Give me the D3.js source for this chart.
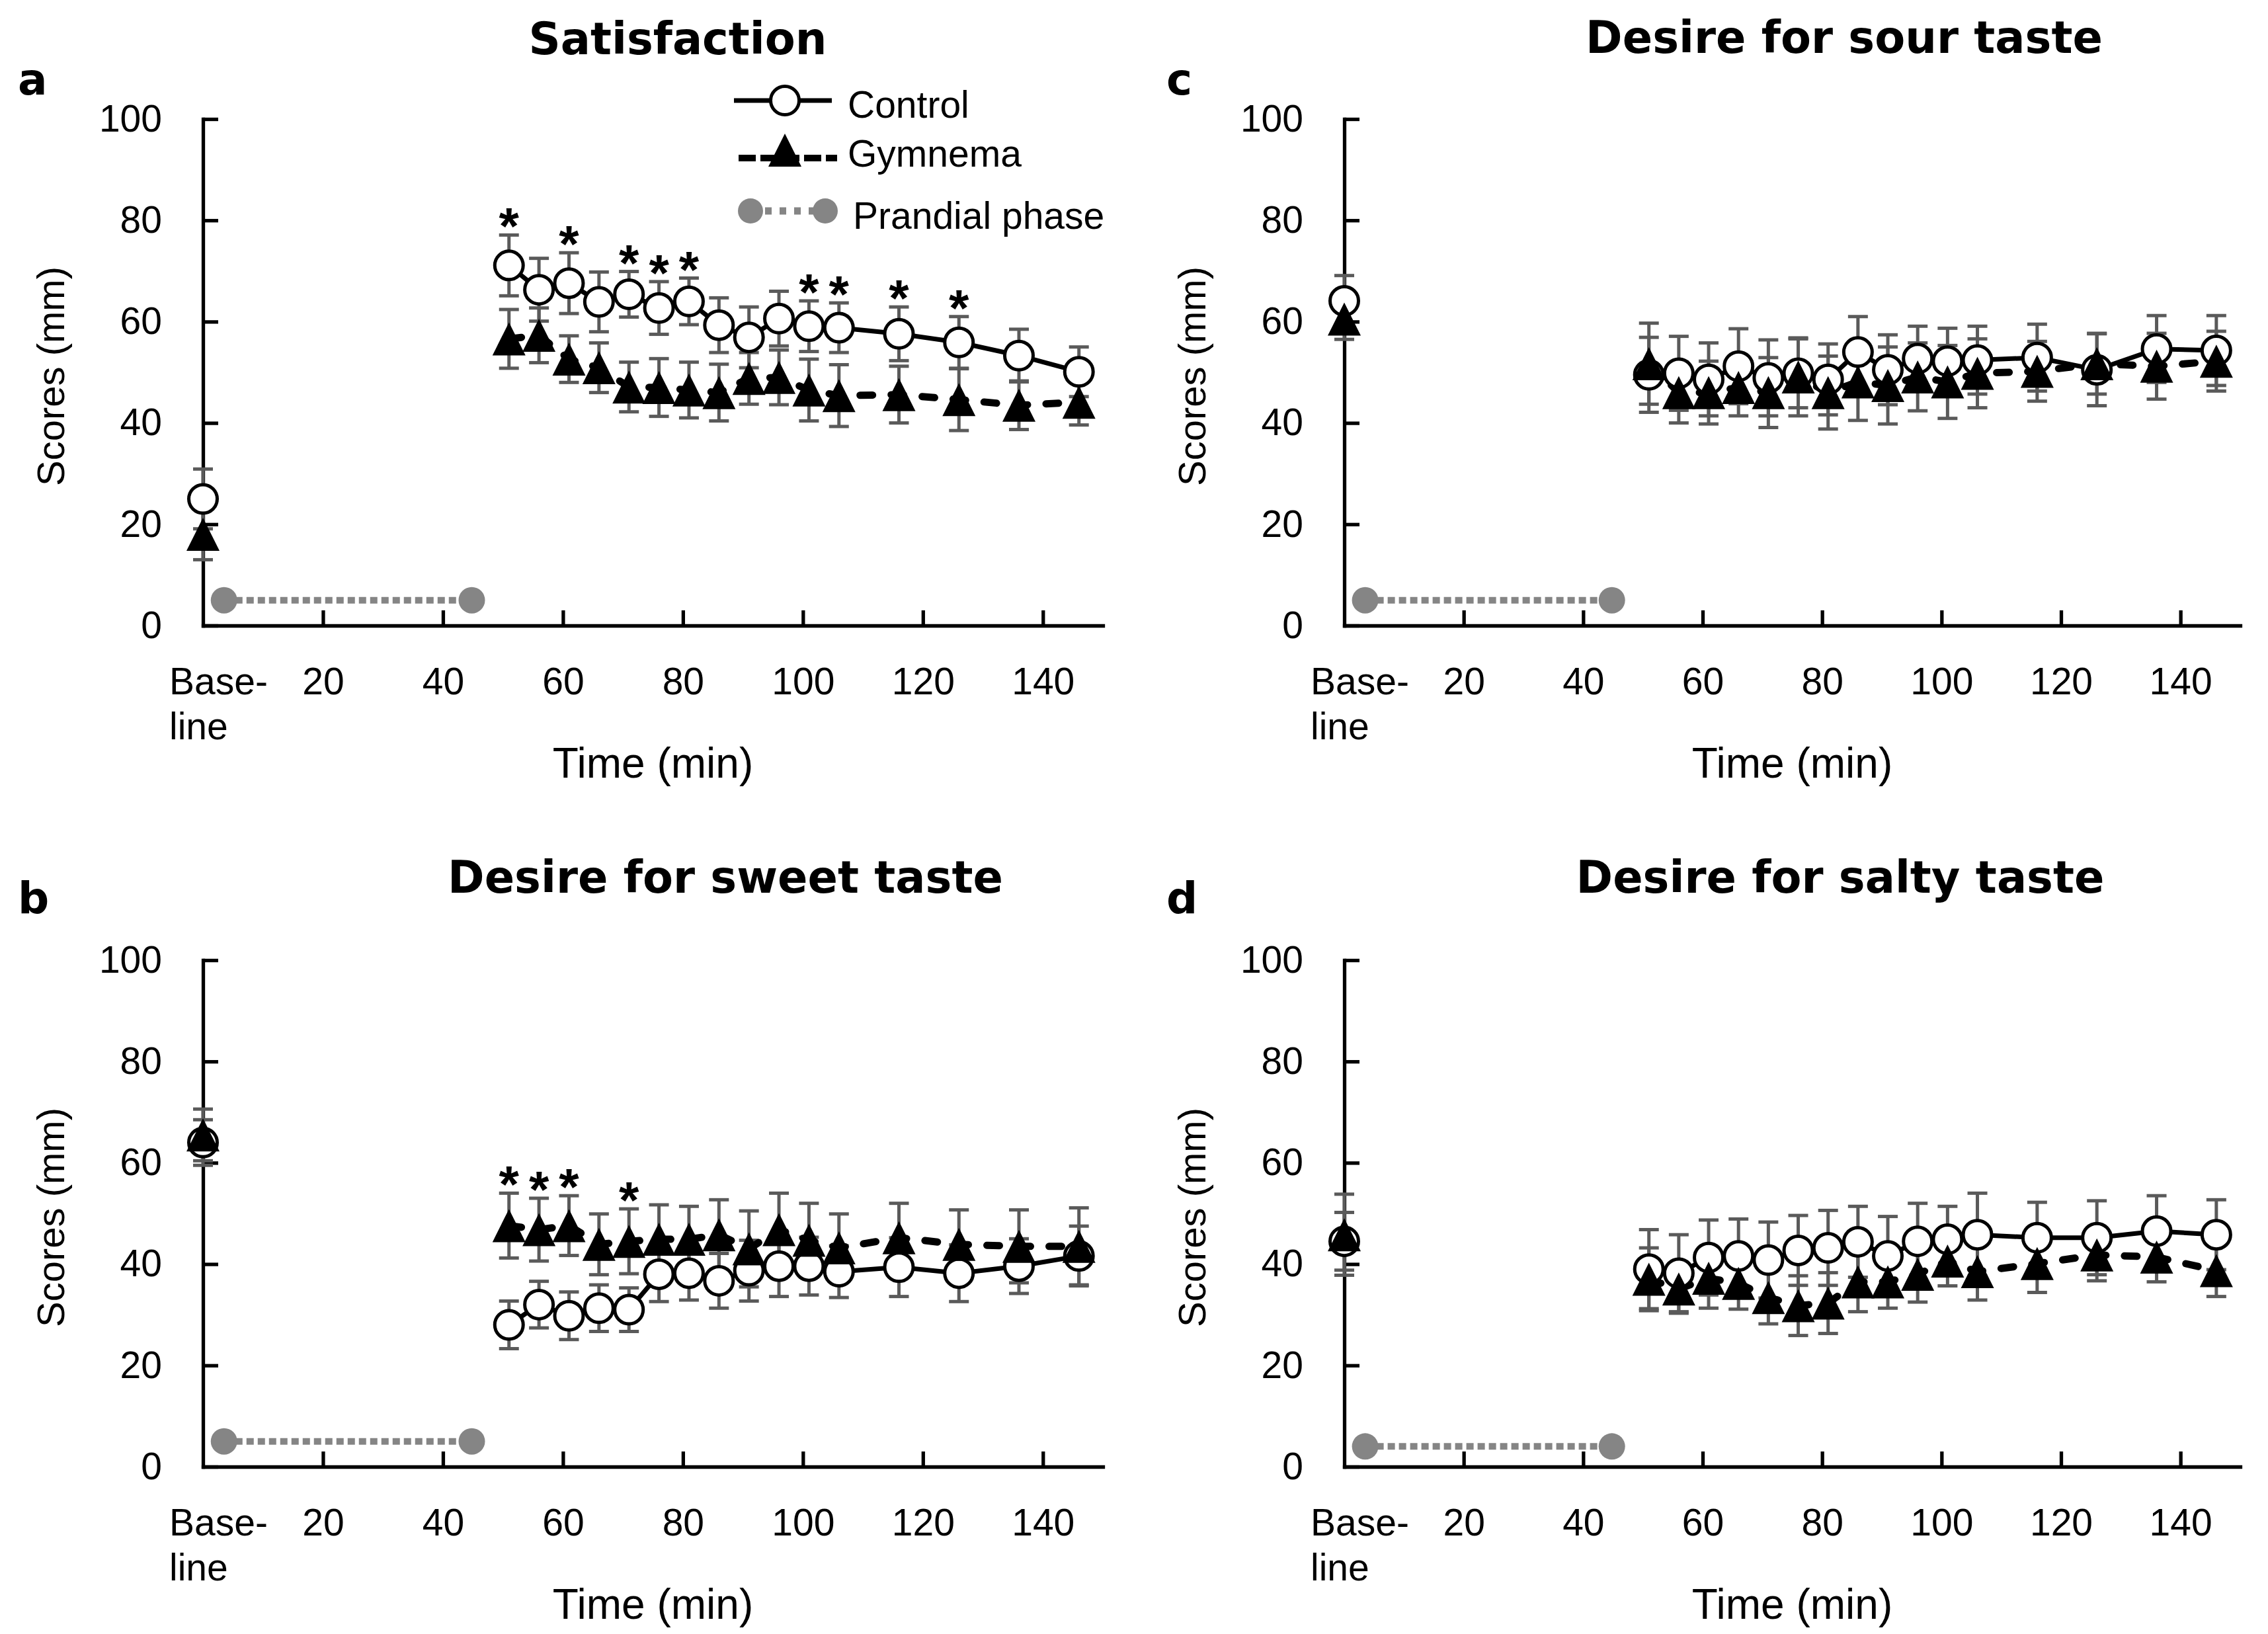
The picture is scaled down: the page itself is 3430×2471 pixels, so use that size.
<!DOCTYPE html>
<html>
<head>
<meta charset="utf-8">
<script src="https://cdn.jsdelivr.net/npm/d3@7"></script>
<style>
body { margin: 0; background: #fff; }
text { font-family: "Liberation Sans", Arial, sans-serif; fill: #000; }
</style>
</head>
<body>
<div id="chart"></div>
<script>
// time points (min); index 0 is the baseline, not joined to the lines
var times = [0, 51, 56, 61, 66, 71, 76, 81, 86, 91, 96, 101, 106, 116, 126, 136, 146];
var xTicks = [20, 40, 60, 80, 100, 120, 140];
var yTicks = [0, 20, 40, 60, 80, 100];
var prandialTimes = [3.5, 44.8];

// a: Satisfaction
var satControl   = [25.0, 71.1, 66.3, 67.6, 63.9, 65.4, 62.7, 64.0, 59.3, 56.9, 60.6, 59.1, 58.8, 57.6, 55.9, 53.3, 50.1];
var satControlSE = [5.9, 6.0, 6.2, 6.0, 5.9, 4.5, 5.2, 4.6, 5.4, 6.0, 5.4, 5.0, 4.9, 5.3, 5.1, 5.2, 4.9];
var satGymnema   = [18.0, 56.6, 57.3, 52.6, 50.9, 47.1, 47.0, 46.5, 46.0, 48.8, 49.0, 46.5, 45.4, 45.6, 44.6, 43.5, 44.1];
var satGymnemaSE = [5.0, 5.8, 5.4, 4.6, 4.9, 4.9, 5.7, 5.5, 5.6, 5.1, 5.4, 6.1, 6.1, 5.6, 6.1, 4.8, 4.5];
var satPrandial  = [5, 5];
var satStars     = [51, 61, 71, 76, 81, 101, 106, 116, 126];

// b: Desire for sweet taste
var sweetControl   = [64.0, 28.0, 32.0, 29.8, 31.3, 31.0, 38.0, 38.2, 36.7, 38.7, 39.6, 39.6, 38.5, 39.4, 38.2, 39.6, 41.6];
var sweetControlSE = [4.5, 4.7, 4.6, 4.7, 4.6, 4.3, 5.4, 5.3, 5.4, 6.0, 6.0, 5.7, 5.1, 5.8, 5.6, 5.4, 5.9];
var sweetGymnema   = [65.5, 47.6, 46.8, 47.6, 43.9, 44.5, 44.9, 44.9, 45.8, 43.0, 46.8, 44.7, 43.2, 45.2, 43.9, 43.5, 43.5];
var sweetGymnemaSE = [5.1, 6.4, 6.2, 5.9, 6.0, 6.4, 6.8, 6.5, 6.9, 7.5, 7.2, 7.3, 6.7, 6.8, 6.8, 7.2, 7.6];
var sweetPrandial  = [5, 5];
var sweetStars     = [51, 56, 61, 71];

// c: Desire for sour taste
var sourControl   = [64.1, 49.5, 49.8, 48.6, 51.2, 48.9, 49.8, 48.6, 54.0, 50.5, 52.7, 52.2, 52.4, 52.9, 50.5, 54.6, 54.3];
var sourControlSE = [5.0, 7.4, 7.3, 7.2, 7.4, 7.5, 6.8, 7.0, 7.0, 6.9, 6.4, 6.5, 6.7, 6.6, 7.1, 6.6, 6.9];
var sourGymnema   = [60.5, 51.7, 46.0, 46.0, 47.0, 46.0, 49.1, 46.0, 48.1, 47.4, 49.1, 48.1, 49.8, 50.2, 51.7, 51.2, 52.2];
var sourGymnemaSE = [4.0, 8.0, 6.0, 6.2, 5.6, 6.9, 7.7, 7.2, 7.6, 7.6, 6.7, 7.2, 6.8, 5.9, 6.0, 6.5, 5.9];
var sourPrandial  = [5, 5];

// d: Desire for salty taste
var saltyControl   = [44.5, 39.0, 38.2, 41.3, 41.6, 40.8, 42.7, 43.2, 44.4, 41.6, 44.5, 44.9, 45.8, 45.2, 45.2, 46.5, 45.8];
var saltyControlSE = [5.7, 7.8, 7.6, 7.4, 7.3, 7.5, 6.9, 7.4, 7.0, 7.8, 7.5, 6.5, 8.2, 7.0, 7.3, 7.0, 6.9];
var saltyGymnema   = [45.8, 37.0, 35.1, 37.2, 36.2, 33.4, 31.8, 32.3, 36.5, 36.5, 38.0, 40.6, 38.5, 40.1, 41.8, 41.4, 38.7];
var saltyGymnemaSE = [8.0, 6.2, 4.8, 5.9, 5.1, 5.2, 5.9, 6.0, 5.9, 5.2, 5.5, 4.9, 5.6, 5.7, 5.1, 4.9, 5.1];
var saltyPrandial  = [4, 4];

var legendLabels = ["Control", "Gymnema", "Prandial phase"];

var svg = d3.select("#chart")
    .append("svg")
    .attr("width", 3430)
    .attr("height", 2471);

svg.append("rect").attr("width", 3430).attr("height", 2471).attr("fill", "#fff");

var errColor = "#5a5a5a";
var prandialColor = "#858585";
var titleFont = "'DejaVu Sans', sans-serif";
var triPath = "M0,-25L25,25L-25,25Z";

var panels = [
    { letter: "a", title: "Satisfaction", left: 307, right: 1668, top: 180, bottom: 946,
      titleX: 1025, titleY: 82, letterX: 27, letterY: 143,
      control: satControl, controlSE: satControlSE, gymnema: satGymnema, gymnemaSE: satGymnemaSE,
      prandial: satPrandial, stars: satStars, starsOn: "control", legend: true },
    { letter: "c", title: "Desire for sour taste", left: 2033, right: 3388, top: 180, bottom: 946,
      titleX: 2789, titleY: 80, letterX: 1764, letterY: 143,
      control: sourControl, controlSE: sourControlSE, gymnema: sourGymnema, gymnemaSE: sourGymnemaSE,
      prandial: sourPrandial, stars: [], starsOn: "control" },
    { letter: "b", title: "Desire for sweet taste", left: 307, right: 1668, top: 1452, bottom: 2218,
      titleX: 1097, titleY: 1350, letterX: 27, letterY: 1381,
      control: sweetControl, controlSE: sweetControlSE, gymnema: sweetGymnema, gymnemaSE: sweetGymnemaSE,
      prandial: sweetPrandial, stars: sweetStars, starsOn: "gymnema" },
    { letter: "d", title: "Desire for salty taste", left: 2033, right: 3388, top: 1452, bottom: 2218,
      titleX: 2783, titleY: 1350, letterX: 1764, letterY: 1381,
      control: saltyControl, controlSE: saltyControlSE, gymnema: saltyGymnema, gymnemaSE: saltyGymnemaSE,
      prandial: saltyPrandial, stars: [], starsOn: "control" }
];

panels.forEach(drawPanel);

function drawPanel(p) {
    var g = svg.append("g");

    var x = d3.scaleLinear().domain([0, 150]).range([p.left, p.right]);
    var y = d3.scaleLinear().domain([0, 100]).range([p.bottom, p.top]);

    // axes, ticks point inward
    var yAxis = g.append("g")
        .attr("transform", `translate(${p.left},0)`)
        .call(d3.axisLeft(y).tickValues(yTicks).tickSizeInner(-23).tickSizeOuter(0).tickPadding(62));
    var xAxis = g.append("g")
        .attr("transform", `translate(0,${p.bottom})`)
        .call(d3.axisBottom(x).tickValues(xTicks).tickSizeInner(-23).tickSizeOuter(0).tickPadding(64));
    [yAxis, xAxis].forEach(function(ax) {
        ax.attr("font-family", null).attr("font-size", null);
        ax.select(".domain").attr("stroke", "#000").attr("stroke-width", 5.3).attr("stroke-linecap", "square");
        ax.selectAll(".tick line").attr("stroke", "#000").attr("stroke-width", 5.3);
        ax.selectAll(".tick text").style("font-size", "57px").attr("fill", "#000");
    });

    g.append("text").attr("x", p.left - 51).attr("y", p.bottom + 104)
        .style("font-size", "57px").text("Base-");
    g.append("text").attr("x", p.left - 51).attr("y", p.bottom + 172)
        .style("font-size", "57px").text("line");

    g.append("text")
        .attr("x", (p.left + p.right) / 2)
        .attr("y", p.bottom + 230)
        .attr("text-anchor", "middle")
        .style("font-size", "64px")
        .text("Time (min)");

    g.append("text")
        .attr("transform", `translate(${p.left - 210},${(p.top + p.bottom) / 2 + 6}) rotate(-90)`)
        .attr("text-anchor", "middle")
        .style("font-size", "58px")
        .text("Scores (mm)");

    // prandial phase
    g.append("line")
        .attr("x1", x(prandialTimes[0])).attr("x2", x(prandialTimes[1]))
        .attr("y1", y(p.prandial[0])).attr("y2", y(p.prandial[1]))
        .attr("stroke", prandialColor).attr("stroke-width", 10)
        .attr("stroke-dasharray", "11 6");
    g.selectAll(".prandial")
        .data(prandialTimes)
        .enter()
        .append("circle")
        .attr("cx", d => x(d))
        .attr("cy", (d, i) => y(p.prandial[i]))
        .attr("r", 20)
        .attr("fill", prandialColor);

    // error bars
    var series = [
        { vals: p.control, se: p.controlSE },
        { vals: p.gymnema, se: p.gymnemaSE }
    ];
    series.forEach(function(s) {
        var eb = g.append("g").attr("stroke", errColor).attr("stroke-width", 5);
        times.forEach(function(t, i) {
            var cx = x(t), lo = y(s.vals[i] - s.se[i]), hi = y(s.vals[i] + s.se[i]);
            eb.append("line").attr("x1", cx).attr("x2", cx).attr("y1", lo).attr("y2", hi);
            eb.append("line").attr("x1", cx - 15).attr("x2", cx + 15).attr("y1", lo).attr("y2", lo);
            eb.append("line").attr("x1", cx - 15).attr("x2", cx + 15).attr("y1", hi).attr("y2", hi);
        });
    });

    // lines (postprandial only)
    var line = d3.line().x(d => x(d[0])).y(d => y(d[1]));
    var ctrlPts = times.slice(1).map((t, i) => [t, p.control[i + 1]]);
    var gymPts = times.slice(1).map((t, i) => [t, p.gymnema[i + 1]]);
    g.append("path").attr("d", line(ctrlPts))
        .attr("fill", "none").attr("stroke", "#000").attr("stroke-width", 7);
    g.append("path").attr("d", line(gymPts))
        .attr("fill", "none").attr("stroke", "#000").attr("stroke-width", 11)
        .attr("stroke-dasharray", "19 28").attr("stroke-linecap", "round");

    // markers
    g.selectAll(".ctrl")
        .data(times)
        .enter()
        .append("circle")
        .attr("cx", d => x(d))
        .attr("cy", (d, i) => y(p.control[i]))
        .attr("r", 21.5)
        .attr("fill", "#fff")
        .attr("stroke", "#000")
        .attr("stroke-width", 5);
    g.selectAll(".gym")
        .data(times)
        .enter()
        .append("path")
        .attr("d", triPath)
        .attr("transform", (d, i) => `translate(${x(d)},${y(p.gymnema[i])})`)
        .attr("fill", "#000");

    // significance stars
    var sv = p.starsOn === "control" ? p.control : p.gymnema;
    var ss = p.starsOn === "control" ? p.controlSE : p.gymnemaSE;
    g.selectAll(".star")
        .data(p.stars)
        .enter()
        .append("text")
        .attr("x", d => x(d))
        .attr("y", function(d) {
            var i = times.indexOf(d);
            return y(sv[i] + ss[i]) + 14;
        })
        .attr("text-anchor", "middle")
        .style("font-size", "78px")
        .style("font-weight", "bold")
        .text("*");

    // title and panel letter
    g.append("text")
        .attr("x", p.titleX).attr("y", p.titleY)
        .attr("text-anchor", "middle")
        .style("font-family", titleFont)
        .style("font-weight", "bold")
        .style("font-size", "67px")
        .text(p.title);
    g.append("text")
        .attr("x", p.letterX).attr("y", p.letterY)
        .style("font-family", titleFont)
        .style("font-weight", "bold")
        .style("font-size", "66px")
        .text(p.letter);

    if (p.legend) drawLegend(g);
}

function drawLegend(g) {
    // Control
    g.append("line").attr("x1", 1110).attr("x2", 1258).attr("y1", 152).attr("y2", 152)
        .attr("stroke", "#000").attr("stroke-width", 7);
    g.append("circle").attr("cx", 1187).attr("cy", 152).attr("r", 21.5)
        .attr("fill", "#fff").attr("stroke", "#000").attr("stroke-width", 5);
    // Gymnema
    g.append("line").attr("x1", 1117).attr("x2", 1266).attr("y1", 239).attr("y2", 239)
        .attr("stroke", "#000").attr("stroke-width", 10).attr("stroke-dasharray", "26 7");
    g.append("path").attr("d", triPath).attr("transform", "translate(1187,227)").attr("fill", "#000");
    // Prandial phase
    g.append("line").attr("x1", 1135).attr("x2", 1248).attr("y1", 319).attr("y2", 319)
        .attr("stroke", prandialColor).attr("stroke-width", 11).attr("stroke-dasharray", "10 12");
    g.selectAll(".legdot")
        .data([1135, 1248])
        .enter()
        .append("circle")
        .attr("cx", d => d).attr("cy", 319).attr("r", 19)
        .attr("fill", prandialColor);

    var ly = [178, 252, 346];
    var lx = [1282, 1282, 1290];
    g.selectAll(".legtext")
        .data(legendLabels)
        .enter()
        .append("text")
        .attr("x", (d, i) => lx[i])
        .attr("y", (d, i) => ly[i])
        .style("font-size", "57px")
        .text(d => d);
}
</script>
</body>
</html>
